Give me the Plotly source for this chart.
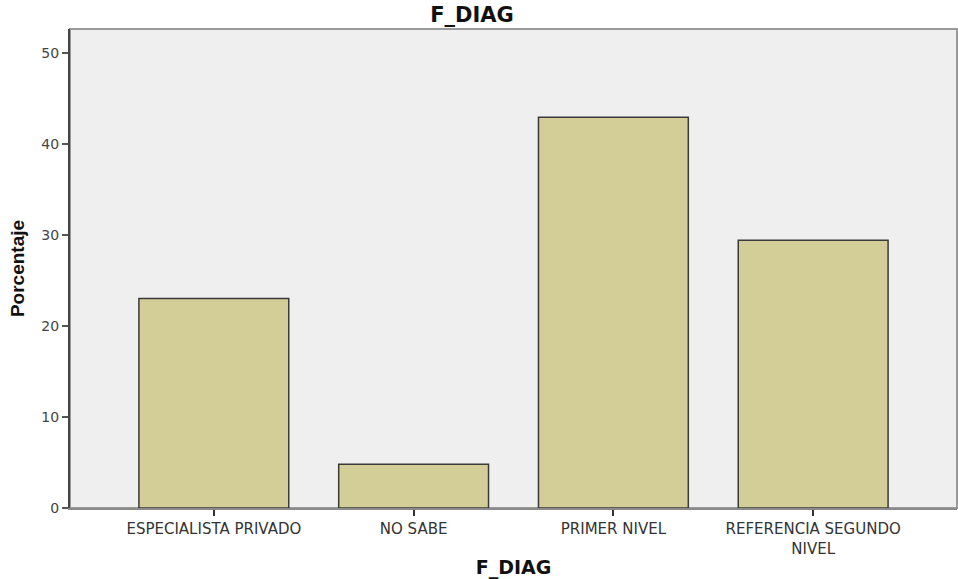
import plotly.graph_objects as go

categories = ["ESPECIALISTA PRIVADO", "NO SABE", "PRIMER NIVEL", "REFERENCIA SEGUNDO<br>NIVEL"]
percentages = [23.0, 4.8, 42.9, 29.4]
y_ticks = [0, 10, 20, 30, 40, 50]

fig = go.Figure()
fig.add_trace(go.Bar(
    x=list(range(len(categories))),
    y=percentages,
    width=0.75,
    marker=dict(color="#d3ce98", line=dict(color="#3a3a3a", width=1.5)),
    hoverinfo="y",
))

fig.update_layout(
    width=958, height=579,
    margin=dict(l=70, r=1, t=29, b=71),
    paper_bgcolor="white",
    plot_bgcolor="#efefef",
    showlegend=False,
    title=dict(text="<b>F_DIAG</b>", x=(472 - 70) / 887, xref="paper", xanchor="center",
               y=1 - 15 / 579, yanchor="middle",
               font=dict(family="DejaVu Sans, Verdana", size=21, color="#111")),
    shapes=[dict(type="rect", xref="paper", yref="paper", x0=0, y0=0, x1=1, y1=1,
                 line=dict(color="#9a9a9a", width=2), layer="below")],
)

fig.update_xaxes(
    range=[-0.72, 3.72],
    tickmode="array",
    tickvals=list(range(len(categories))),
    ticktext=categories,
    ticks="outside", ticklen=6, tickwidth=2, tickcolor="#333",
    showline=True, linecolor="#8a8a8a", linewidth=2,
    showgrid=False, zeroline=False,
    tickfont=dict(family="DejaVu Sans, Verdana", size=15, color="#333"),
    title=dict(text="<b>F_DIAG</b>", standoff=6,
               font=dict(family="DejaVu Sans, Verdana", size=19, color="#111")),
)

fig.update_yaxes(
    range=[0, 52.6],
    tickmode="array",
    tickvals=y_ticks,
    ticks="outside", ticklen=6, tickwidth=2, tickcolor="#555",
    showline=True, linecolor="#444", linewidth=2,
    showgrid=False, zeroline=False,
    tickfont=dict(family="DejaVu Sans, Verdana", size=14, color="#444"),
    title=dict(text="<b>Porcentaje</b>", standoff=12,
               font=dict(family="Liberation Sans Narrow, Liberation Sans, Arial", size=19, color="#111")),
)

fig.write_html("out.html", config={"displayModeBar": False},
               post_script="document.body.style.margin='0';document.body.style.overflow='hidden';")
